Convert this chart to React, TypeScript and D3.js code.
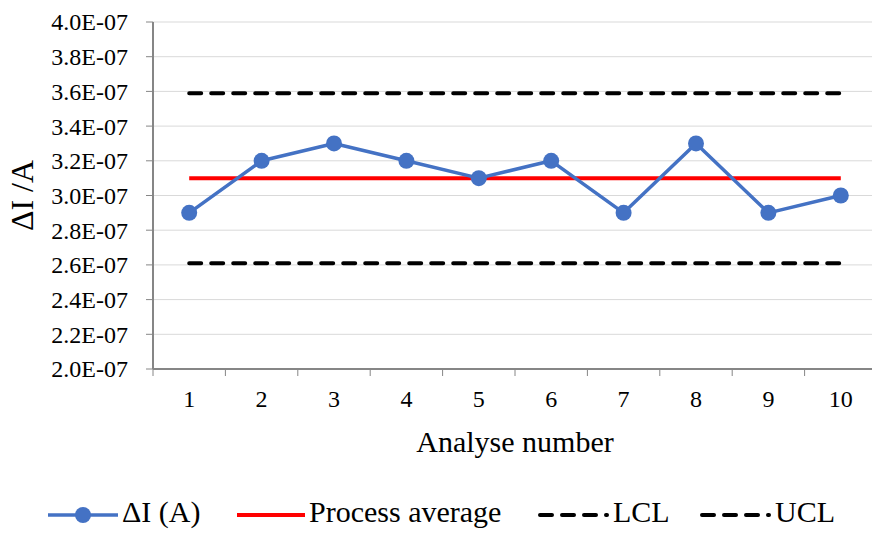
import React from "react";
import * as d3 from "d3";

const categories = ["1", "2", "3", "4", "5", "6", "7", "8", "9", "10"];
const deltaI = [2.9e-7, 3.2e-7, 3.3e-7, 3.2e-7, 3.1e-7, 3.2e-7, 2.9e-7, 3.3e-7, 2.9e-7, 3.0e-7];
const processAverage = 3.1e-7;
const lcl = 2.61e-7;
const ucl = 3.59e-7;
const yTicks = [2.0e-7, 2.2e-7, 2.4e-7, 2.6e-7, 2.8e-7, 3.0e-7, 3.2e-7, 3.4e-7, 3.6e-7, 3.8e-7, 4.0e-7];

const W = 872;
const H = 534;
const left = 153;
const right = 877;
const top = 22;
const bottom = 369;
const FONT = "Liberation Serif";

export default function App() {
  const x = d3.scaleBand<string>().domain(categories).range([left, right]).padding(0);
  const y = d3.scaleLinear().domain([2.0e-7, 4.0e-7]).range([bottom, top]);
  const cx = (c: string) => (x(c) as number) + x.bandwidth() / 2;
  const fmt = (v: number) => (v / 1e-7).toFixed(1) + "E-07";
  const line = d3
    .line<number>()
    .x((_, i) => cx(categories[i]))
    .y((d) => y(d));
  const x0 = cx(categories[0]);
  const x1 = cx(categories[categories.length - 1]);
  const dash = "12 10";
  const legY = 515;
  const ts = (size: number) => ({ fontFamily: FONT, fontSize: size });

  return (
    <svg width={W} height={H} style={{ position: "absolute", left: 0, top: 0, background: "#fff", fontFamily: FONT }}>
      {yTicks.map((t) => (
        <line key={"g" + t} x1={left} x2={right} y1={y(t)} y2={y(t)} stroke="#d9d9d9" strokeWidth={1} />
      ))}
      {yTicks.map((t) => (
        <g key={"t" + t}>
          <line x1={left - 7} x2={left} y1={y(t)} y2={y(t)} stroke="#868686" strokeWidth={1} />
          <text x={128} y={y(t)} dy="0.35em" textAnchor="end" style={ts(24)} fill="#000">
            {fmt(t)}
          </text>
        </g>
      ))}
      {categories.map((c) => (
        <line key={"xt" + c} x1={x(c) as number} x2={x(c) as number} y1={bottom} y2={bottom + 7} stroke="#868686" strokeWidth={1} />
      ))}
      {categories.map((c) => (
        <text key={"xl" + c} x={cx(c)} y={407} textAnchor="middle" style={ts(24)} fill="#000">
          {c}
        </text>
      ))}
      <line x1={left} x2={left} y1={top} y2={bottom} stroke="#868686" strokeWidth={2} />
      <line x1={left} x2={right} y1={bottom} y2={bottom} stroke="#868686" strokeWidth={2} />

      <line x1={x0} x2={x1} y1={y(ucl)} y2={y(ucl)} stroke="#000" strokeWidth={4} strokeDasharray={dash} strokeLinecap="round" />
      <line x1={x0} x2={x1} y1={y(lcl)} y2={y(lcl)} stroke="#000" strokeWidth={4} strokeDasharray={dash} strokeLinecap="round" />
      <line x1={x0} x2={x1} y1={y(processAverage)} y2={y(processAverage)} stroke="#ff0000" strokeWidth={4} />

      <path d={line(deltaI) || ""} fill="none" stroke="#4472c4" strokeWidth={3.5} strokeLinejoin="round" />
      {deltaI.map((v, i) => (
        <circle key={"p" + i} cx={cx(categories[i])} cy={y(v)} r={8} fill="#4472c4" />
      ))}

      <text transform={`translate(33, ${(top + bottom) / 2}) rotate(-90)`} textAnchor="middle" style={ts(32)} fill="#000">
        ΔI /A
      </text>
      <text x={(left + right) / 2} y={452} textAnchor="middle" style={ts(30)} fill="#000">
        Analyse number
      </text>

      <g>
        <line x1={48} x2={118} y1={legY} y2={legY} stroke="#4472c4" strokeWidth={3.5} />
        <circle cx={83} cy={legY} r={8} fill="#4472c4" />
        <text x={122} y={522} style={ts(30)} fill="#000">ΔI (A)</text>

        <line x1={237} x2={305} y1={legY} y2={legY} stroke="#ff0000" strokeWidth={4} />
        <text x={309} y={522} style={ts(30)} fill="#000">Process average</text>

        <line x1={540} x2={607} y1={legY} y2={legY} stroke="#000" strokeWidth={4} strokeDasharray={dash} strokeLinecap="round" />
        <text x={613} y={522} style={ts(30)} fill="#000">LCL</text>

        <line x1={702} x2={769} y1={legY} y2={legY} stroke="#000" strokeWidth={4} strokeDasharray={dash} strokeLinecap="round" />
        <text x={775} y={522} style={ts(30)} fill="#000">UCL</text>
      </g>
    </svg>
  );
}
